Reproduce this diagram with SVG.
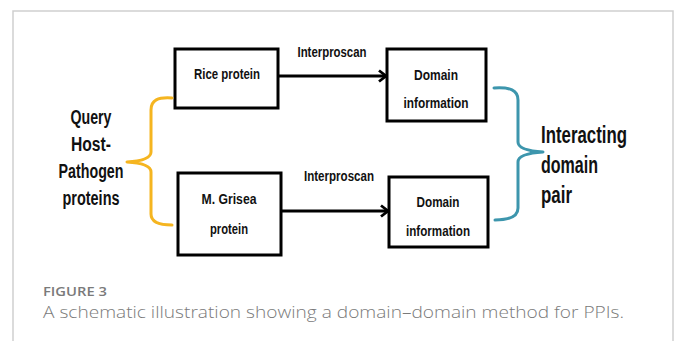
<svg xmlns="http://www.w3.org/2000/svg" width="677" height="341" viewBox="0 0 677 341">
  <defs>
    <marker id="chev" viewBox="0 0 12 14" refX="10" refY="7" markerWidth="12" markerHeight="14" markerUnits="userSpaceOnUse" orient="auto">
      <path d="M3,1.5 L10,7 L3,12.5" fill="none" stroke="#000" stroke-width="2.8" stroke-linejoin="miter"/>
    </marker>
  </defs>
  <style>
    .box { fill: #fff; stroke: #000; stroke-width: 3; }
    .lbl { font-family: "Liberation Sans Narrow", "Liberation Sans", Arial, sans-serif; font-weight: bold; fill: #111; }
    .s14 { font-size: 15px; }
    .s19 { font-size: 20px; }
    .s22 { font-size: 23px; }
    .arrow { fill: none; stroke: #000; stroke-width: 3; }
    .brace { fill: none; stroke-width: 3; stroke-linecap: round; stroke-linejoin: round; }
    .cap { font-family: "Open Sans", "Liberation Sans", sans-serif; fill: #7a7a7a; }
  </style>
  <rect x="0" y="0" width="677" height="341" fill="#fff"/>
  <path d="M13,341 L13,11 L673,11 L673,341" fill="none" stroke="#cfcfcf" stroke-width="1.5"/>

  <g id="query">
    <text class="lbl s19" text-anchor="middle" x="91" y="124" textLength="41" lengthAdjust="spacingAndGlyphs">Query</text>
    <text class="lbl s19" text-anchor="middle" x="91" y="151" textLength="40" lengthAdjust="spacingAndGlyphs">Host-</text>
    <text class="lbl s19" text-anchor="middle" x="91" y="178" textLength="65" lengthAdjust="spacingAndGlyphs">Pathogen</text>
    <text class="lbl s19" text-anchor="middle" x="91" y="205" textLength="57" lengthAdjust="spacingAndGlyphs">proteins</text>
  </g>

  <g id="rice">
    <rect class="box" x="175" y="49" width="103" height="59"/>
    <text class="lbl s14" text-anchor="middle" x="227" y="79" textLength="66" lengthAdjust="spacingAndGlyphs">Rice protein</text>
  </g>

  <g id="grisea">
    <rect class="box" x="178" y="173" width="103" height="82"/>
    <text class="lbl s14" text-anchor="middle" x="229" y="204" textLength="55" lengthAdjust="spacingAndGlyphs">M. Grisea</text>
    <text class="lbl s14" text-anchor="middle" x="229" y="234" textLength="38" lengthAdjust="spacingAndGlyphs">protein</text>
  </g>

  <g id="domain1">
    <rect class="box" x="387" y="49" width="99" height="72"/>
    <text class="lbl s14" text-anchor="middle" x="436" y="80" textLength="44" lengthAdjust="spacingAndGlyphs">Domain</text>
    <text class="lbl s14" text-anchor="middle" x="436" y="108" textLength="65" lengthAdjust="spacingAndGlyphs">information</text>
  </g>

  <g id="domain2">
    <rect class="box" x="389" y="177" width="99" height="70"/>
    <text class="lbl s14" text-anchor="middle" x="438" y="207" textLength="43" lengthAdjust="spacingAndGlyphs">Domain</text>
    <text class="lbl s14" text-anchor="middle" x="438" y="236" textLength="64" lengthAdjust="spacingAndGlyphs">information</text>
  </g>

  <g id="interacting">
    <text class="lbl s22" x="541" y="143" textLength="86" lengthAdjust="spacingAndGlyphs">Interacting</text>
    <text class="lbl s22" x="541" y="173" textLength="57" lengthAdjust="spacingAndGlyphs">domain</text>
    <text class="lbl s22" x="541" y="203" textLength="31" lengthAdjust="spacingAndGlyphs">pair</text>
  </g>

  <g id="connectors">
    <path class="arrow" d="M278,76 L386,76" marker-end="url(#chev)"/>
    <path class="arrow" d="M281,211 L388,211" marker-end="url(#chev)"/>
    <text class="lbl s14" text-anchor="middle" x="332" y="57" textLength="69" lengthAdjust="spacingAndGlyphs">Interproscan</text>
    <text class="lbl s14" text-anchor="middle" x="339" y="181" textLength="70" lengthAdjust="spacingAndGlyphs">Interproscan</text>
    <path class="brace" stroke="#f5b520" d="M172,98 C158,97 151,100 151,110 L151,152 C151,158 143,161 127,162 C143,163 151,166 151,172 L151,214 C151,222 158,225 172,225"/>
    <path class="brace" stroke="#3d96ad" d="M494,88 C510,87 518,90 518,100 L518,142 C518,148 527,151 543,152 C527,153 518,156 518,162 L518,208 C518,216 510,220 495,220"/>
  </g>

  <g id="caption">
    <text class="cap" x="43" y="296" font-size="13" font-weight="600" textLength="64" lengthAdjust="spacingAndGlyphs">FIGURE 3</text>
    <text class="cap" x="43" y="318" font-size="17" font-weight="300" textLength="581" lengthAdjust="spacingAndGlyphs">A schematic illustration showing a domain–domain method for PPIs.</text>
  </g>
</svg>
